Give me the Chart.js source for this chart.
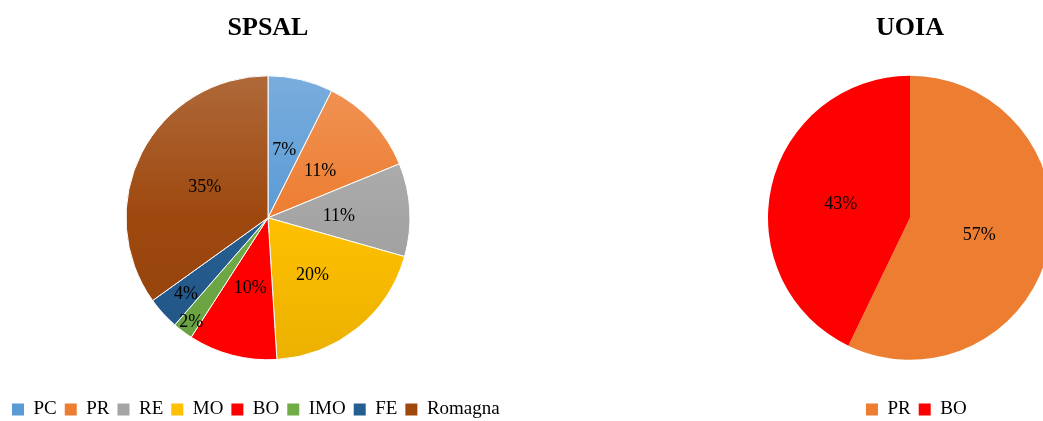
<!DOCTYPE html>
<html>
<head>
<meta charset="utf-8">
<script src="https://cdn.jsdelivr.net/npm/chart.js@4.4.1/dist/chart.umd.min.js"></script>
<style>
    body { margin: 0; width: 1043px; height: 421px; overflow: hidden; background: #fff; position: relative; }
    canvas { position: absolute; top: 0; }
</style>
</head>
<body>
<canvas id="spsalChart" width="540" height="429" style="left:0;width:540px;height:429px"></canvas>
<canvas id="uoiaChart" width="300" height="429" style="left:760px;width:300px;height:429px"></canvas>
<script>
// SPSAL data (share of cases, %)
var spsalLabels = ["PC", "PR", "RE", "MO", "BO", "IMO", "FE", "Romagna"];
var spsalValues = [7.4, 11.4, 10.6, 19.6, 10.1, 2.3, 3.7, 34.9];

// UOIA data
var uoiaLabels = ["PR", "BO"];
var uoiaValues = [4, 3];

var SERIF = "'Liberation Serif', 'Times New Roman', serif";
var PIE_RADIUS = 142;

function mix(hex, target, t) {
    var n = parseInt(hex.slice(1), 16);
    var r = n >> 16, g = (n >> 8) & 255, b = n & 255;
    r = Math.round(r + (target - r) * t);
    g = Math.round(g + (target - g) * t);
    b = Math.round(b + (target - b) * t);
    return "rgb(" + r + "," + g + "," + b + ")";
}

// vertical gradient across the pie, lighter on top (office style)
function gradientFill(colors, flat) {
    return function(ctx) {
        var base = colors[ctx.dataIndex];
        var area = ctx.chart.chartArea;
        if (!area || flat[ctx.dataIndex]) return base;
        var cy = (area.top + area.bottom) / 2;
        var g = ctx.chart.ctx.createLinearGradient(0, cy - PIE_RADIUS, 0, cy + PIE_RADIUS);
        g.addColorStop(0, mix(base, 255, 0.18));
        g.addColorStop(0.5, base);
        g.addColorStop(1, mix(base, 0, 0.08));
        return g;
    };
}

// percentage labels inside the slices
var pctLabels = {
    id: 'pctLabels',
    afterDatasetsDraw: function(chart, args, opts) {
        var ctx = chart.ctx;
        var data = chart.data.datasets[0].data;
        var total = data.reduce(function(a, b) { return a + b; }, 0);
        var meta = chart.getDatasetMeta(0);
        ctx.save();
        ctx.font = "18px " + SERIF;
        ctx.fillStyle = "#000";
        ctx.textAlign = "center";
        ctx.textBaseline = "middle";
        meta.data.forEach(function(arc, i) {
            var p = arc.getProps(['x', 'y', 'startAngle', 'endAngle', 'outerRadius'], true);
            var mid = (p.startAngle + p.endAngle) / 2;
            var f = (opts.radii && opts.radii[i]) || 0.5;
            var x = p.x + Math.cos(mid) * p.outerRadius * f;
            var y = p.y + Math.sin(mid) * p.outerRadius * f + 2;
            ctx.fillText(Math.round(data[i] / total * 100) + "%", x, y);
        });
        ctx.restore();
    }
};

function makePie(id, title, labels, values, colors, flat, extra) {
    return new Chart(document.getElementById(id), {
        type: 'pie',
        data: {
            labels: labels,
            datasets: [{
                data: values,
                backgroundColor: gradientFill(colors, flat),
                borderColor: "#ffffff",
                borderWidth: extra.border,
                radius: PIE_RADIUS,
                clip: false
            }]
        },
        options: {
            responsive: false,
            animation: false,
            events: [],
            layout: { padding: extra.padding },
            plugins: {
                title: {
                    display: true,
                    text: title,
                    color: "#000",
                    font: { family: SERIF, size: 26, weight: 'bold' },
                    padding: { top: 12.4, bottom: 0 }
                },
                legend: {
                    position: 'bottom',
                    align: extra.align,
                    labels: {
                        color: "#000",
                        font: { family: SERIF, size: 19 },
                        boxWidth: 12,
                        boxHeight: 12,
                        padding: 8,
                        generateLabels: function(chart) {
                            var items = Chart.overrides.pie.plugins.legend.labels.generateLabels(chart);
                            items.forEach(function(it, i) {
                                it.fillStyle = colors[i];
                                it.strokeStyle = colors[i];
                                it.lineWidth = 0;
                            });
                            return items;
                        }
                    }
                },
                tooltip: { enabled: false },
                pctLabels: { radii: extra.radii }
            }
        },
        plugins: [pctLabels]
    });
}

document.addEventListener('DOMContentLoaded', function() {
    makePie("spsalChart", "SPSAL", spsalLabels, spsalValues,
        ["#5B9BD5", "#ED7D31", "#A5A5A5", "#FFC000", "#FF0000", "#70AD47", "#255E91", "#9E480E"],
        [false, false, false, false, true, false, false, false],
        {
            border: 1,
            align: 'start',
            padding: { left: 4, right: 8, top: 0, bottom: 0 },
            radii: [0.5, 0.5, 0.5, 0.5, 0.5, 0.9, 0.78, 0.5]
        });

    makePie("uoiaChart", "UOIA", uoiaLabels, uoiaValues,
        ["#ED7D31", "#FF0000"],
        [true, true],
        {
            border: 0,
            align: 'end',
            padding: { left: 85.4, right: 85.4, top: 0, bottom: 0 },
            radii: [0.5, 0.5]
        });
});
</script>
</body>
</html>
